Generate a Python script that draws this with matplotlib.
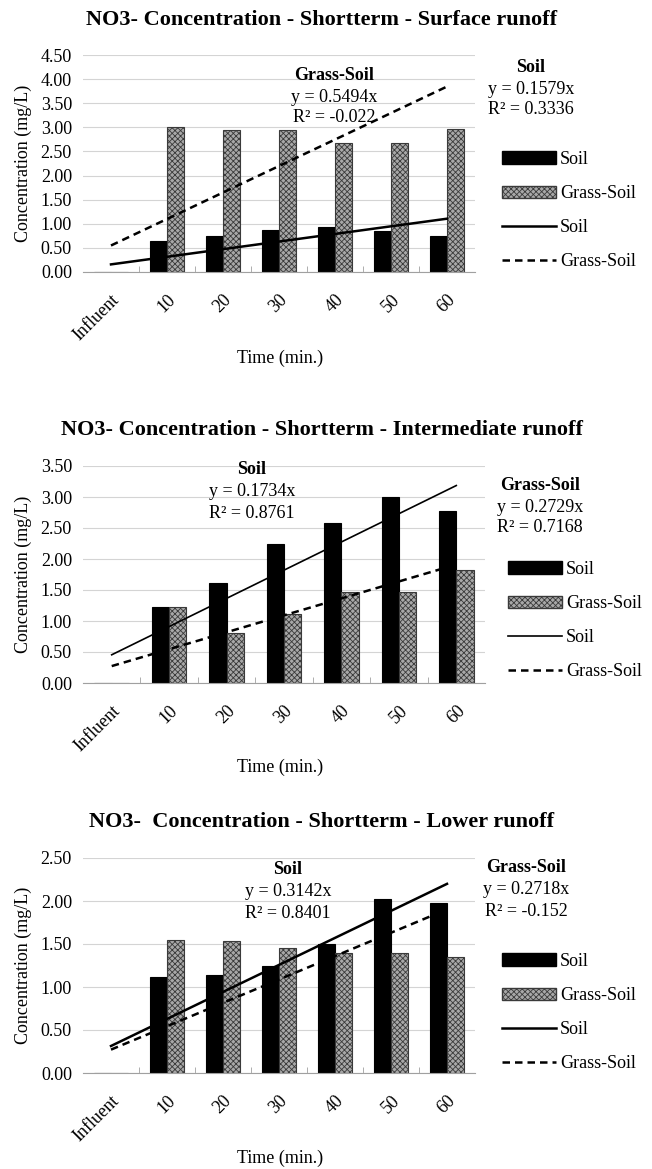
import numpy as np
import matplotlib
matplotlib.use("Agg")
import matplotlib.pyplot as plt
from matplotlib.patches import Patch
from matplotlib.lines import Line2D

plt.rcParams['font.family'] = ['Liberation Serif', 'DejaVu Serif']
plt.rcParams['hatch.linewidth'] = 0.6

categories = ['Influent', '10', '20', '30', '40', '50', '60']

titles = [
    'NO3- Concentration - Shortterm - Surface runoff',
    'NO3- Concentration - Shortterm - Intermediate runoff',
    'NO3-  Concentration - Shortterm - Lower runoff',
]

# bar values, influent has no bar
soil_surface = [0, 0.65, 0.75, 0.87, 0.93, 0.85, 0.75]
grass_surface = [0, 3.00, 2.95, 2.95, 2.68, 2.68, 2.97]
soil_inter = [0, 1.23, 1.62, 2.24, 2.58, 3.00, 2.77]
grass_inter = [0, 1.23, 0.80, 1.12, 1.47, 1.47, 1.82]
soil_lower = [0, 1.12, 1.14, 1.24, 1.50, 2.02, 1.98]
grass_lower = [0, 1.55, 1.53, 1.45, 1.40, 1.40, 1.35]

# slopes of the drawn trend lines (y = a*x, x = category number)
soil_slopes = [0.1579, 0.455, 0.3142]
grass_slopes = [0.5494, 0.2729, 0.2718]

# equation labels as printed on the chart
soil_eq = [('y = 0.1579x', 'R² = 0.3336'), ('y = 0.1734x', 'R² = 0.8761'), ('y = 0.3142x', 'R² = 0.8401')]
grass_eq = [('y = 0.5494x', 'R² = -0.022'), ('y = 0.2729x', 'R² = 0.7168'), ('y = 0.2718x', 'R² = -0.152')]

y_max = [4.5, 3.5, 2.5]

W, H = 652, 1169
fig = plt.figure(figsize=(W / 100, H / 100), dpi=100)


def fx(px):
    return px / W


def fy(py):
    return 1 - py / H


# pixel layout of each panel: (axes top, axes bottom, axes right, title y, xlabel y)
panels = [(55, 272, 475, 20, 358), (466, 683, 485, 430, 767), (858, 1073, 475, 822, 1158)]
# equation block centers: (soil x, soil y, grass x, grass y)
eq_pos = [(531, 67, 334, 75), (252, 470, 540, 485), (288, 870, 526, 868)]
legend_xy = [(502, 165), (508, 575), (502, 967)]

soil_all = [soil_surface, soil_inter, soil_lower]
grass_all = [grass_surface, grass_inter, grass_lower]

x = np.arange(1, len(categories) + 1)
bw = 0.3
grass_face = '#a8a8a8'
grass_edge = '#3a3a3a'

for i in range(3):
    top, bot, right, ty, xl = panels[i]
    ax = fig.add_axes([fx(83), fy(bot), fx(right) - fx(83), fy(top) - fy(bot)])

    ax.bar(x - bw / 2, soil_all[i], bw, color='black', edgecolor='black', linewidth=0.8, zorder=2)
    ax.bar(x + bw / 2, grass_all[i], bw, color=grass_face, edgecolor=grass_edge,
           hatch='xxxxxx', linewidth=0.8, zorder=2)

    lw_soil = 1.2 if i == 1 else 1.8
    ax.plot(x, soil_slopes[i] * x, color='black', lw=lw_soil, zorder=3)
    ax.plot(x, grass_slopes[i] * x, color='black', lw=1.8, ls=(0, (3, 2)), zorder=3)

    ax.set_xlim(0.5, 7.5)
    ax.set_ylim(0, y_max[i])
    ticks = np.arange(0, y_max[i] + 0.01, 0.5)
    ax.set_yticks(ticks)
    ax.set_yticklabels(['%.2f' % v for v in ticks], fontsize=13)
    ax.yaxis.grid(True, color='#d4d4d4', lw=0.8, zorder=0)
    ax.set_axisbelow(True)
    ax.tick_params(axis='y', length=0, pad=8)

    ax.set_xticks(x)
    ax.set_xticklabels(categories, rotation=45, ha='right', rotation_mode='anchor', fontsize=13)
    ax.tick_params(axis='x', length=0, pad=14)
    ax.set_xticks(np.arange(1.5, 7.5, 1), minor=True)
    ax.tick_params(axis='x', which='minor', direction='in', length=4, color='#a0a0a0')

    for s in ['top', 'right', 'left']:
        ax.spines[s].set_visible(False)
    ax.spines['bottom'].set_color('#a0a0a0')

    ax.set_ylabel('Concentration (mg/L)', fontsize=13, labelpad=6)

    fig.text(fx(322), fy(ty), titles[i], ha='center', va='center', fontsize=16, fontweight='bold')
    fig.text(fx(280), fy(xl), 'Time (min.)', ha='center', va='center', fontsize=13)

    sx, sy, gx, gy = eq_pos[i]
    fig.text(fx(sx), fy(sy), 'Soil', ha='center', va='center', fontsize=13, fontweight='bold')
    fig.text(fx(sx), fy(sy + 22), soil_eq[i][0], ha='center', va='center', fontsize=13)
    fig.text(fx(sx), fy(sy + 43), soil_eq[i][1], ha='center', va='center', fontsize=13)
    fig.text(fx(gx), fy(gy), 'Grass-Soil', ha='center', va='center', fontsize=13, fontweight='bold')
    fig.text(fx(gx), fy(gy + 22), grass_eq[i][0], ha='center', va='center', fontsize=13)
    fig.text(fx(gx), fy(gy + 43), grass_eq[i][1], ha='center', va='center', fontsize=13)

    handles = [
        Patch(facecolor='black', edgecolor='black', label='Soil'),
        Patch(facecolor=grass_face, edgecolor=grass_edge, hatch='xxxxxx', label='Grass-Soil'),
        Line2D([], [], color='black', lw=lw_soil, label='Soil'),
        Line2D([], [], color='black', lw=1.8, ls=(0, (3, 2)), label='Grass-Soil'),
    ]
    lx, ly = legend_xy[i]
    fig.legend(handles=handles, loc='upper left',
               bbox_to_anchor=(fx(lx), fy(ly - 14)),
               frameon=False, fontsize=13, handlelength=3.0, handleheight=0.7,
               labelspacing=0.95, handletextpad=0.2, borderpad=0, borderaxespad=0)

fig.savefig('out.png', dpi=100)
